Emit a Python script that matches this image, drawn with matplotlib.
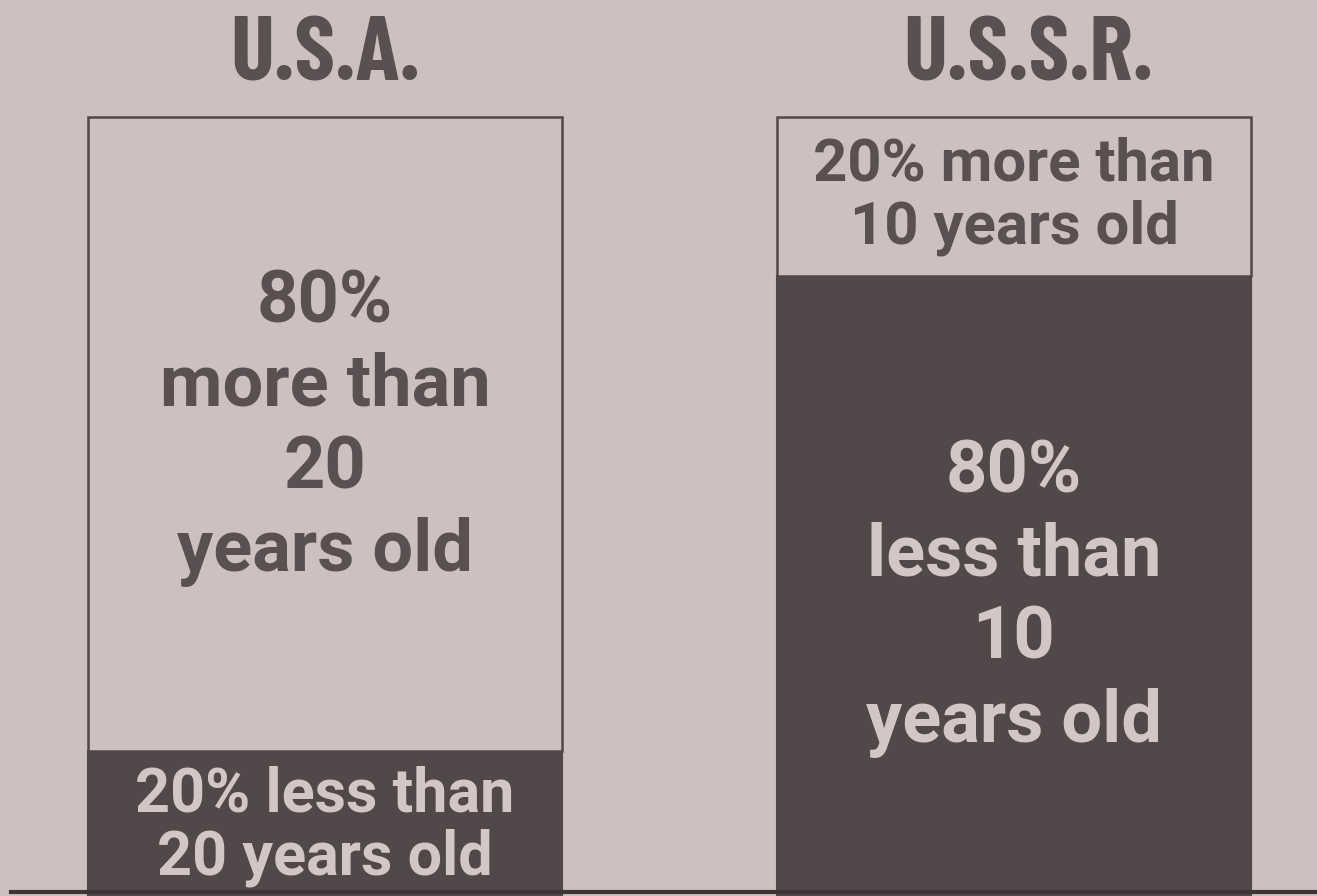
import numpy as np
import matplotlib
matplotlib.use("Agg")
import matplotlib.pyplot as plt
from matplotlib import font_manager
from matplotlib.lines import Line2D

# data
countries = ["U.S.A.", "U.S.S.R."]
bottom_share = [20, 80]   # lower segment (dark)
top_share = [80, 20]      # upper segment (light)
bottom_labels = ["20% less than\n20 years old", "80%\nless than\n10\nyears old"]
top_labels = ["80%\nmore than\n20\nyears old", "20% more than\n10 years old"]

bg = "#cdc0bf"
dark = "#524849"
ink = "#5a5051"
light_ink = "#d2c6c6"

# pick bold faces that exist
bold_fams = {f.name for f in font_manager.fontManager.ttflist
             if isinstance(f.weight, int) and f.weight >= 700}
def pick(cands):
    return next((n for n in cands if n in bold_fams), "DejaVu Sans")

body_font = [pick(["Roboto", "Roboto Condensed", "Arimo"]), "DejaVu Sans"]
title_font = [pick(["Barlow Condensed", "Oswald", "Roboto Condensed"]), "DejaVu Sans"]

fig = plt.figure(figsize=(13.17, 8.96), dpi=100, facecolor=bg)
ax = fig.add_axes([0, 0, 1, 1])
ax.set_facecolor(bg)

x = np.arange(len(countries))
w = 0.688
ax.bar(x, bottom_share, w, color=dark, edgecolor=dark, linewidth=1.5)
ax.bar(x, top_share, w, bottom=bottom_share, color=bg, edgecolor=dark, linewidth=1.8)

ax.set_xlim(-0.4717, 1.4398)
ax.set_ylim(1.77, 114.75)
ax.axis("off")

for i in range(len(countries)):
    b = bottom_share[i]
    t = top_share[i]
    big_b = b > 50
    ax.text(x[i], b / 2 + (0.6 if not big_b else -0.7), bottom_labels[i], ha="center", va="center",
            color=light_ink, fontweight="bold", fontsize=52 if big_b else 44,
            linespacing=1.26 if big_b else 1.1, family=body_font)
    ax.text(x[i], b + t / 2 + (0.8 if t > 50 else 0), top_labels[i], ha="center", va="center",
            color=ink, fontweight="bold", fontsize=52 if t > 50 else 43,
            linespacing=1.26 if t > 50 else 1.15, family=body_font)
    ax.text(x[i] + (0.02 if i == 1 else 0), 107.6, countries[i], ha="center", va="center",
            color=ink, fontweight="bold", fontsize=66, family=title_font)

fig.add_artist(Line2D([0.008, 1], [0.004, 0.004], color="#3e3536", lw=3))

fig.savefig("out.png", dpi=100, facecolor=bg)
